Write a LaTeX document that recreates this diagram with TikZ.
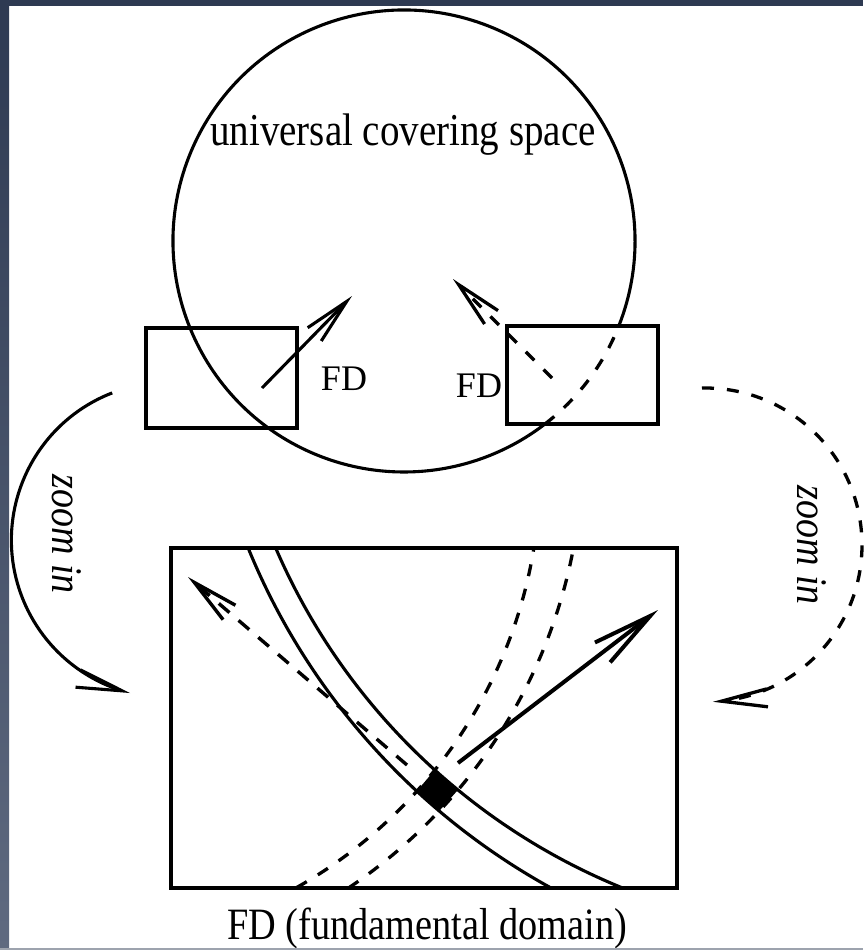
\documentclass[tikz,border=0pt]{standalone}
\usepackage{fontspec}
\setmainfont{Liberation Serif}
\usepackage{graphicx}
\usetikzlibrary{arrows.meta,bending}
\definecolor{navy}{HTML}{2E3A52}
\definecolor{slate}{HTML}{5F6A80}
\definecolor{lowbar}{HTML}{9DA3AE}
\begin{document}
\begin{tikzpicture}[x=1pt,y=1pt,
  ln/.style={line width=3.1pt},
  dsh/.style={line width=3.3pt, dash pattern=on 12pt off 13pt},
  barb/.style={-{Straight Barb[length=46pt,width=19pt]}},
  flexbarb/.style={-{Straight Barb[length=46pt,width=18pt,flex]}},
  bigbarb/.style={-{Straight Barb[length=60pt,width=25pt]}},
  lbl/.style={inner sep=0pt, font=\fontsize{36}{38}\selectfont},
  stretched/.style={inner sep=0pt}
]
\useasboundingbox (0,0) rectangle (863,-950);
\fill[white] (0,0) rectangle (863,-950);

% universal covering space circle (dashed inside the right box)
\coordinate (cc) at (404,-241);
\draw[ln] (cc) ++(-21.6:231) arc[start angle=-21.6, end angle=307.6, radius=231];
\draw[dsh] (cc) ++(-52.4:231) arc[start angle=-52.4, end angle=-21.6, radius=231];
\node[stretched, anchor=base] (ucs) at (403,-145) {\fontsize{39}{40}\selectfont\scalebox{1}[1.17]{universal covering space}};

% small boxes
\draw[ln] (146,-328) rectangle (297,-428);
\draw[ln] (507,-326) rectangle (658,-424);

% small arrows
\coordinate (aLs) at (262,-388); \coordinate (aLe) at (352,-296);
\draw[ln, barb] (aLs) -- (aLe);
\coordinate (aRs) at (552,-378); \coordinate (aRe) at (453,-279);
\draw[dsh, barb] (aRs) -- (aRe);
\node[lbl, anchor=base] (fdL) at (344,-390) {FD};
\node[lbl, anchor=base] (fdR) at (479,-397) {FD};

% zoom in arrows
\draw[ln, flexbarb] (169.3,-540.1) ++(111.2:157.9) arc[start angle=111.2, end angle=255.6, radius=157.9];
\draw[dsh, flexbarb] (705,-545) ++(91.1:157) arc[start angle=91.1, end angle=-87.1, radius=157];
\node[stretched, rotate=-90, anchor=base] (zl) at (52,-534) {\fontsize{38}{40}\selectfont\itshape\scalebox{1}[1.15]{zoom in}};
\node[stretched, rotate=-90, anchor=base] (zr) at (797,-545) {\fontsize{38}{40}\selectfont\itshape\scalebox{1}[1.15]{zoom in}};

% big box
\draw[ln] (171,-548) rectangle (677,-888);
\begin{scope}
  \clip (171,-548) rectangle (677,-888);
  \draw[ln] (879,-291) circle[radius=681];
  \draw[ln] (863.5,-295.2) circle[radius=639.7];
  \draw[dsh] (61.7,-470.7) circle[radius=478.4];
  \draw[dsh] (54.7,-449.2) circle[radius=528];
\end{scope}
\fill (416.8,-791.1) -- (434.8,-770.0) -- (457.9,-790.0) -- (439.2,-811.0) -- cycle;

\coordinate (bSs) at (458,-763); \coordinate (bSe) at (658,-610);
\draw[line width=4pt, bigbarb] (bSs) -- (bSe);
\coordinate (bDs) at (407,-765); \coordinate (bDe) at (188,-577);
\draw[line width=3.4pt, dash pattern=on 14pt off 12pt, barb] (bDs) -- (bDe);

\node[stretched, anchor=base] (cap) at (427,-939) {\fontsize{38.3}{40}\selectfont\scalebox{1}[1.17]{FD (fundamental domain)}};

% frame strips
\fill[navy] (0,0) rectangle (863,-6);
\shade[top color=navy, bottom color=slate] (0,0) rectangle (9,-950);
\fill[lowbar] (0,-947.5) rectangle (863,-950);
\end{tikzpicture}
\end{document}
